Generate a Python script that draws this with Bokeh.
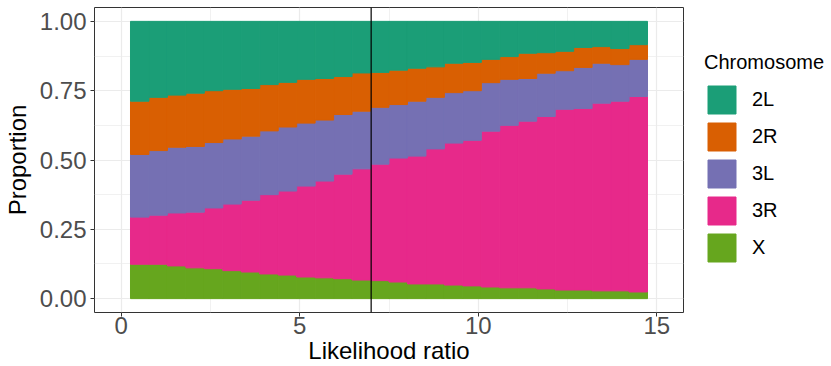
from bokeh.plotting import figure
from bokeh.models import (Range1d, FixedTicker, NumeralTickFormatter, Legend,
                          LegendItem, Span, ColumnDataSource)
from bokeh.embed import file_html
from bokeh.resources import INLINE

# Likelihood-ratio bin centres (bin width 15/29)
lr_bins = [0.517, 1.034, 1.552, 2.069, 2.586, 3.103, 3.621, 4.138, 4.655, 5.172,
           5.690, 6.207, 6.724, 7.241, 7.759, 8.276, 8.793, 9.310, 9.828, 10.345,
           10.862, 11.379, 11.897, 12.414, 12.931, 13.448, 13.966, 14.483]

# Proportion of windows per chromosome arm in each bin
prop_X = [0.124, 0.124, 0.118, 0.111, 0.108, 0.101, 0.096, 0.089, 0.085, 0.078,
          0.075, 0.072, 0.067, 0.065, 0.060, 0.053, 0.053, 0.049, 0.046, 0.042,
          0.039, 0.039, 0.035, 0.031, 0.031, 0.028, 0.028, 0.024]
prop_3R = [0.170, 0.177, 0.191, 0.201, 0.219, 0.240, 0.259, 0.286, 0.303, 0.328,
           0.349, 0.377, 0.401, 0.420, 0.447, 0.461, 0.487, 0.512, 0.525, 0.562,
           0.586, 0.601, 0.622, 0.652, 0.655, 0.677, 0.684, 0.705]
prop_3L = [0.226, 0.233, 0.237, 0.237, 0.236, 0.235, 0.231, 0.230, 0.231, 0.227,
           0.220, 0.215, 0.208, 0.205, 0.193, 0.198, 0.186, 0.182, 0.179, 0.175,
           0.166, 0.154, 0.156, 0.139, 0.148, 0.144, 0.132, 0.134]
prop_2R = [0.192, 0.192, 0.188, 0.192, 0.187, 0.179, 0.172, 0.167, 0.161, 0.158,
           0.150, 0.137, 0.138, 0.126, 0.124, 0.119, 0.110, 0.106, 0.102, 0.084,
           0.082, 0.091, 0.074, 0.070, 0.072, 0.060, 0.058, 0.053]
prop_2L = [0.288, 0.274, 0.266, 0.259, 0.250, 0.245, 0.242, 0.228, 0.220, 0.209,
           0.206, 0.199, 0.186, 0.184, 0.176, 0.169, 0.164, 0.151, 0.148, 0.137,
           0.127, 0.115, 0.113, 0.108, 0.094, 0.091, 0.098, 0.084]

chromosomes = ["2L", "2R", "3L", "3R", "X"]
chrom_colors = ["#1B9E77", "#D95F02", "#7570B3", "#E7298A", "#66A61E"]
threshold = 7.0

x_ticks = [0, 5, 10, 15]
y_ticks = [0, 0.25, 0.5, 0.75, 1.0]

FONT = "Liberation Sans"
bin_width = 15 / 29

source = ColumnDataSource(dict(lr=lr_bins, X=prop_X, **{"3R": prop_3R, "3L": prop_3L,
                                                         "2R": prop_2R, "2L": prop_2L}))

p = figure(frame_width=589, frame_height=305,
           x_range=Range1d(-0.75, 15.75), y_range=Range1d(-0.05, 1.05),
           output_backend="svg", toolbar_location=None,
           min_border_left=94, min_border_top=7, min_border_right=148,
           min_border_bottom=54)
p.background_fill_color = "white"
p.border_fill_color = "white"
p.outline_line_color = "#333333"
p.outline_line_width = 1

# stack from the bottom: X, 3R, 3L, 2R, 2L
stack_order = ["X", "3R", "3L", "2R", "2L"]
stack_colors = [chrom_colors[chromosomes.index(c)] for c in stack_order]
renderers = p.vbar_stack(stack_order, x="lr", width=bin_width, source=source,
                         fill_color=stack_colors, line_color=stack_colors,
                         line_width=1)

p.add_layout(Span(location=threshold, dimension="height",
                  line_color="black", line_width=1.2))

# grid
p.xaxis.ticker = FixedTicker(ticks=x_ticks, minor_ticks=[2.5, 7.5, 12.5])
p.yaxis.ticker = FixedTicker(ticks=y_ticks, minor_ticks=[0.125, 0.375, 0.625, 0.875])
p.yaxis.formatter = NumeralTickFormatter(format="0.00")
for g in (p.xgrid, p.ygrid):
    g.grid_line_color = "#EBEBEB"
    g.grid_line_width = 1.2
    g.minor_grid_line_color = "#EBEBEB"
    g.minor_grid_line_width = 0.7
    g.level = "underlay"

for ax in (p.xaxis, p.yaxis):
    ax.axis_line_color = None
    ax.major_tick_line_color = "#333333"
    ax.major_tick_out = 4
    ax.major_tick_in = 0
    ax.minor_tick_line_color = None
    ax.major_label_text_font = FONT
    ax.major_label_text_font_size = "24px"
    ax.major_label_text_color = "#4D4D4D"
    ax.axis_label_text_font = FONT
    ax.axis_label_text_font_size = "24px"
    ax.axis_label_text_font_style = "normal"
    ax.axis_label_text_color = "black"

p.xaxis.major_label_standoff = 0
p.xaxis.axis_label_standoff = 0
p.yaxis.major_label_standoff = 4
p.yaxis.axis_label_standoff = 6

p.xaxis.axis_label = "Likelihood ratio"
p.yaxis.axis_label = "Proportion"

items = [LegendItem(label=c, renderers=[renderers[stack_order.index(c)]])
         for c in chromosomes]
legend = Legend(items=items, title="Chromosome", location=(21, 47),
                title_text_font=FONT, title_text_font_size="20px",
                title_text_font_style="normal", title_text_color="black",
                title_standoff=8,
                label_text_font=FONT, label_text_font_size="20px",
                label_text_color="black",
                label_standoff=13, label_height=35,
                glyph_width=35, glyph_height=35, spacing=2,
                padding=0, margin=0, border_line_color=None,
                background_fill_alpha=0)
p.add_layout(legend, "right")

open("out.html", "w").write(file_html(p, INLINE))
